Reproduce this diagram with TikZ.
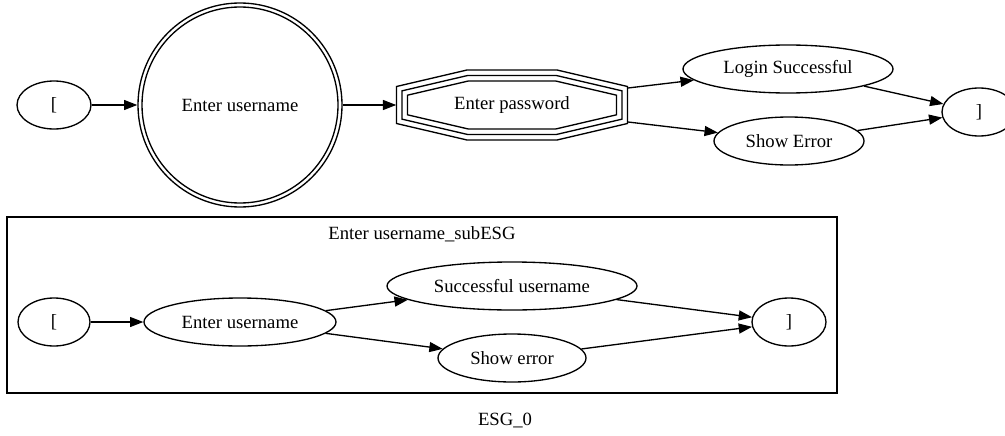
\documentclass[tikz,border=0pt]{standalone}
\usepackage{fontspec}
\setmainfont{Liberation Serif}
\usetikzlibrary{shapes.geometric,arrows.meta}
\begin{document}
\begin{tikzpicture}[x=0.75pt,y=-0.75pt,
  every node/.style={font=\fontsize{14pt}{16pt}\selectfont},
  st/.style={ellipse,draw,line width=1pt,inner sep=0pt,minimum height=36pt},
  conn/.style={line width=1pt,-{Triangle[length=10pt,width=7.5pt]}},
  ring/.style={line width=1pt}]
\useasboundingbox (0,0) rectangle (1005,435);
% top row
\node[st,minimum width=55.5pt] (lb1) at (54,105) {[};
\node[circle,draw,line width=1pt,minimum size=153pt,inner sep=0pt] (eu) at (240,105) {Enter username};
\draw[ring] (eu.center) circle[radius=73.5pt];
\node[draw=none,minimum width=173.25pt,minimum height=52.5pt,inner sep=0pt] (pw) at (512,105) {Enter password};
\foreach \d in {0,5.5,11}{
  \draw[ring,shift={(pw.center)}]
    ({-115.5+\d},{-18.5+0.79*\d}) -- ({-45+0.12*\d},{-35+\d}) -- ({45-0.12*\d},{-35+\d}) --
    ({115.5-\d},{-18.5+0.79*\d}) -- ({115.5-\d},{18.5-0.79*\d}) -- ({45-0.12*\d},{35-\d}) --
    ({-45+0.12*\d},{35-\d}) -- ({-115.5+\d},{18.5-0.79*\d}) -- cycle;
}
\node[st,minimum width=157.5pt] (ls) at (788,69) {Login Successful};
\node[st,minimum width=112.5pt] (se) at (789,141) {Show Error};
\node[st,minimum width=55.5pt] (rb1) at (979,112) {]};
\coordinate (pwA) at (628,88);
\coordinate (pwB) at (628,122);
\draw[conn] (lb1) -- (eu);
\draw[conn] (eu) -- (pw);
\draw[conn] (pwA) -- (ls);
\draw[conn] (pwB) -- (se);
\draw[conn] (ls) -- (rb1);
\draw[conn] (se) -- (rb1);
% cluster
\node[draw,line width=1pt,minimum width=622.5pt,minimum height=132pt,inner sep=0pt] (cl) at (422,305) {};
\node (clt) at (422,234) {Enter username\_subESG};
\node[st,minimum width=54pt] (lb2) at (54,322) {[};
\node[st,minimum width=144pt] (eu2) at (240,322) {Enter username};
\node[st,minimum width=187.5pt] (su) at (512,286) {Successful username};
\node[st,minimum width=111pt] (se2) at (512,358) {Show error};
\node[st,minimum width=55.5pt] (rb2) at (789,322) {]};
\draw[conn] (lb2) -- (eu2);
\draw[conn] (eu2) -- (su);
\draw[conn] (eu2) -- (se2);
\draw[conn] (su) -- (rb2);
\draw[conn] (se2) -- (rb2);
\node (esg) at (505,420) {ESG\_0};
\end{tikzpicture}
\end{document}
